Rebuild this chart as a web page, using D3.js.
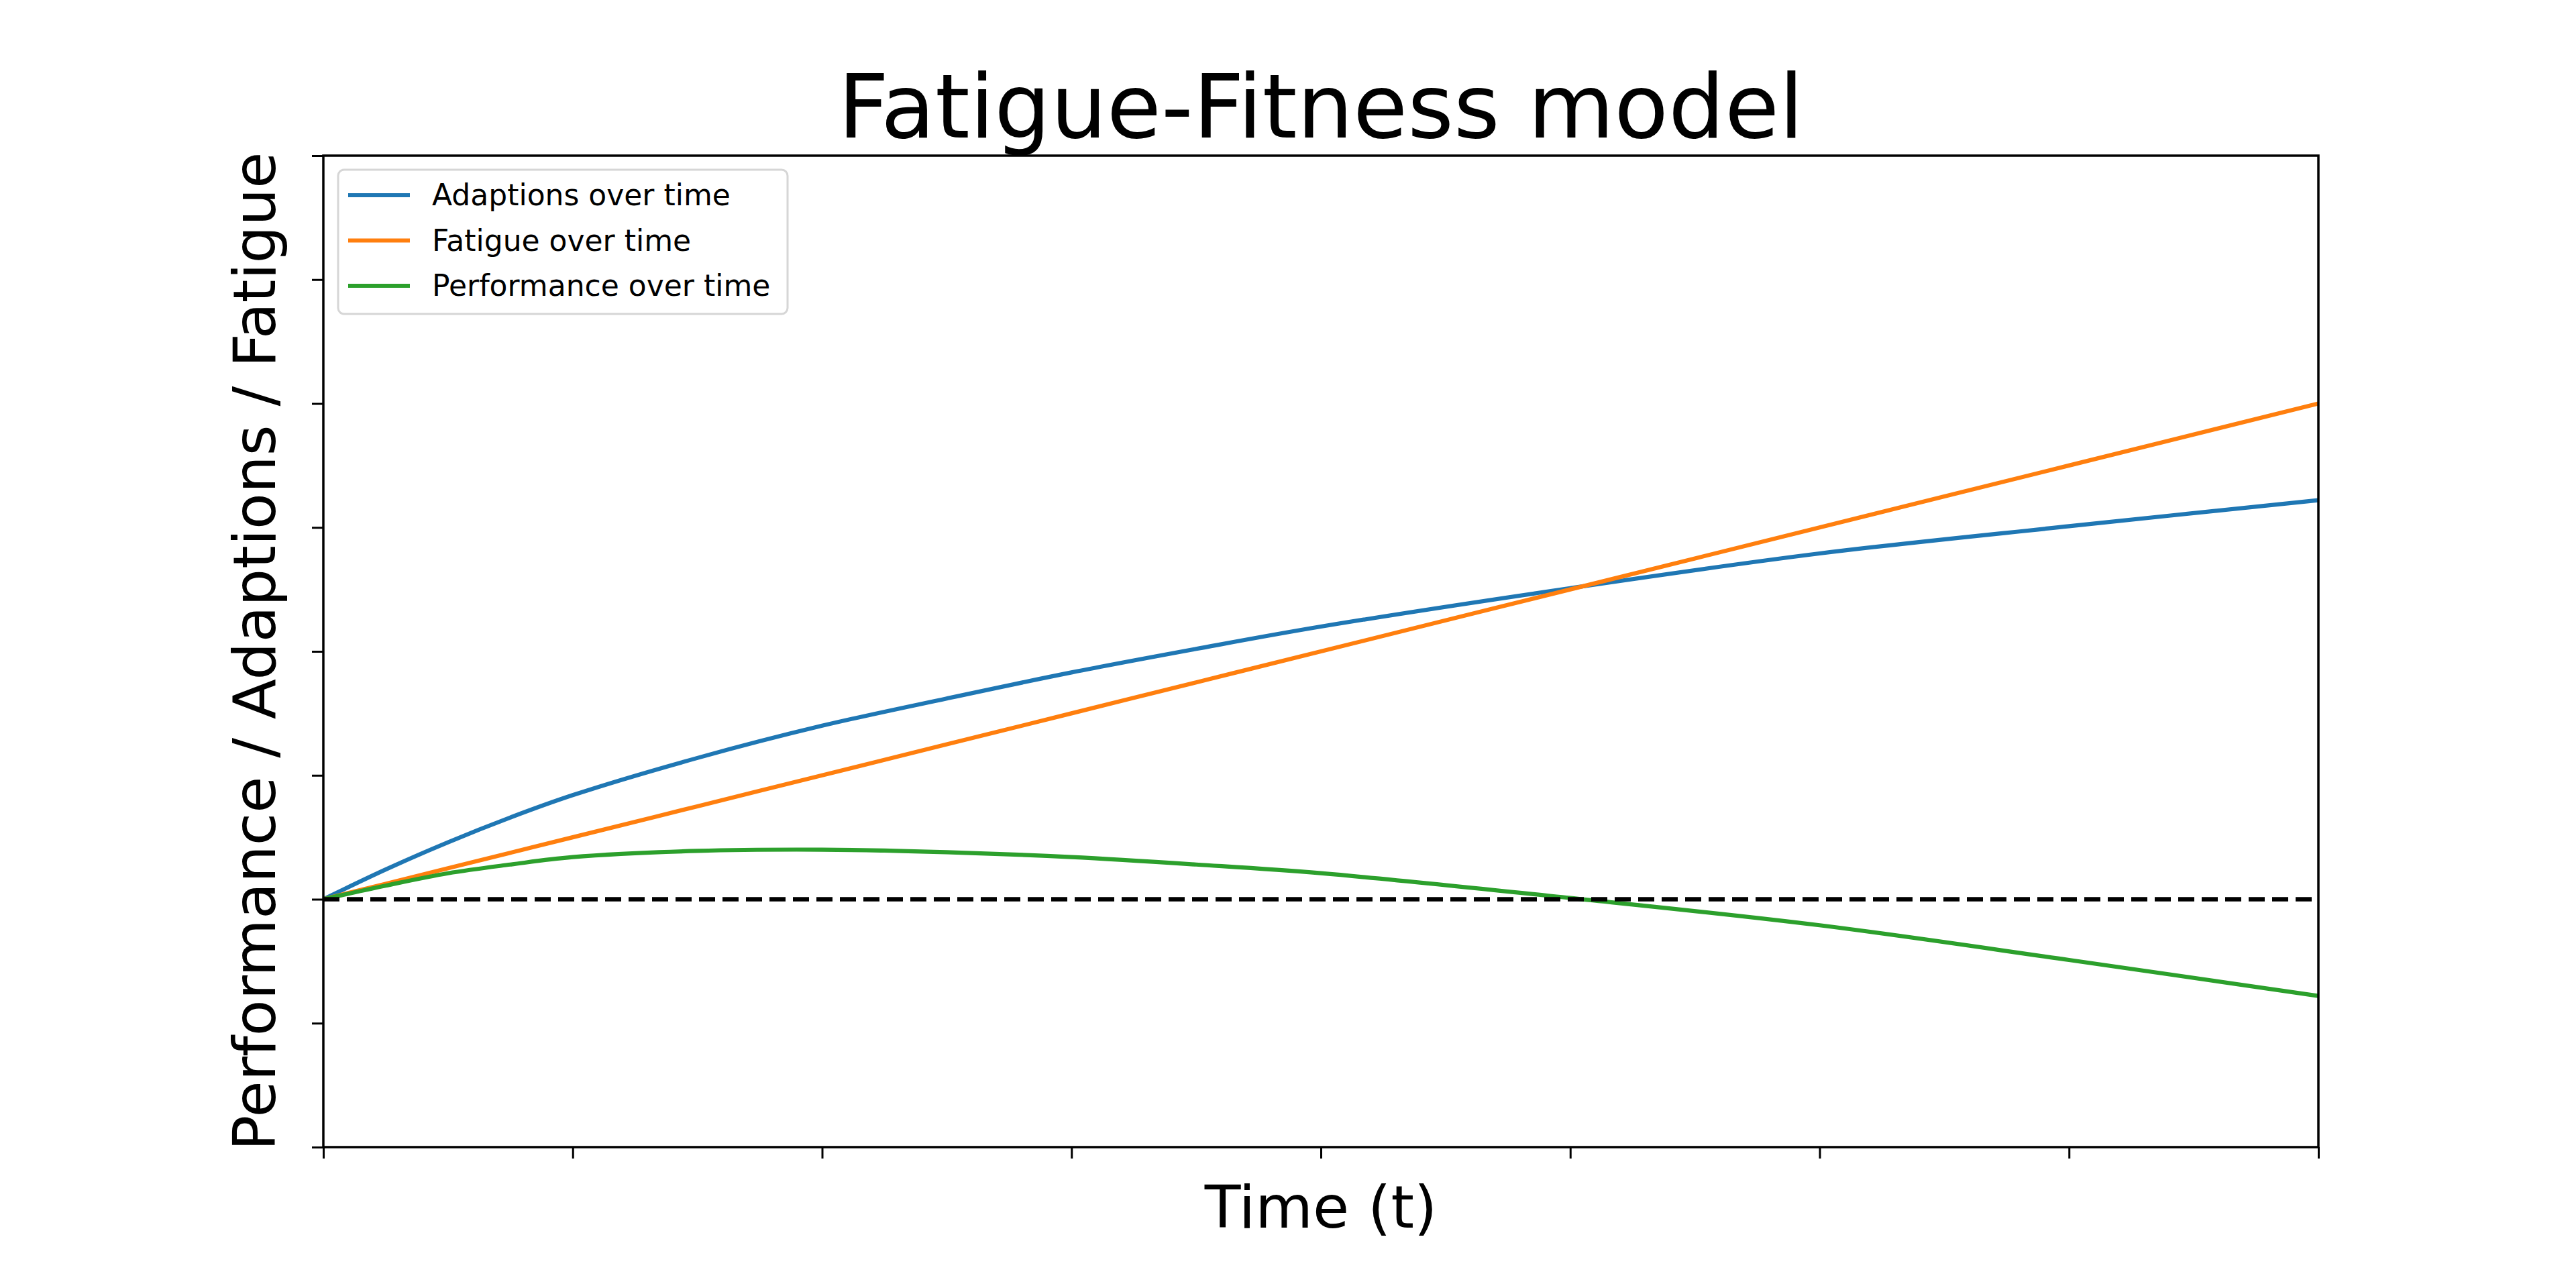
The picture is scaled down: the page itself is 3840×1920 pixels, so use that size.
<!DOCTYPE html>
<html>
<head>
<meta charset="utf-8">
<script src="https://cdn.jsdelivr.net/npm/d3@7"></script>
<style>
  body { margin: 0; background: #fff; }
  svg { display: block; font-family: "DejaVu Sans", sans-serif; }
</style>
</head>
<body>
<svg id="chartSVG" width="3840" height="1920"></svg>
<script>
// values (t in 0..8, y unit = one tick)
var timeValues        = [0, 0.25, 0.5, 0.75, 1, 1.5, 2, 2.5, 3, 3.5, 4, 5, 6, 7, 8];
var adaptionValues    = [0, 0.24, 0.46, 0.66, 0.84, 1.14, 1.40, 1.62, 1.83, 2.02, 2.20, 2.51, 2.79, 3.01, 3.22];
var fatigueValues     = [0, 0.125, 0.25, 0.375, 0.5, 0.75, 1.0, 1.25, 1.5, 1.75, 2.0, 2.5, 3.0, 3.5, 4.0];
var performanceValues = [0, 0.11, 0.21, 0.28, 0.34, 0.39, 0.40, 0.38, 0.34, 0.28, 0.21, 0.01, -0.21, -0.49, -0.78];

var seriesNames  = ["Adaptions over time", "Fatigue over time", "Performance over time"];
var seriesColors = ["#1f77b4", "#ff7f0e", "#2ca02c"];

var xTicks = [0, 1, 2, 3, 4, 5, 6, 7, 8];
var yTicks = [-2, -1, 0, 1, 2, 3, 4, 5, 6];

var chart = (function(){
    var _left = 482, _right = 3456, _top = 232, _bottom = 1710;
    var _lw = 6.2;

    var svg = d3.select("#chartSVG");

    var x = d3.scaleLinear().domain([0, 8]).range([_left, _right]);
    var y = d3.scaleLinear().domain([-2, 6]).range([_bottom, _top]);

    function _drawAxes(){
        var gx = svg.append("g")
            .attr("transform", "translate(0," + _bottom + ")")
            .call(d3.axisBottom(x).tickValues(xTicks).tickFormat("").tickSize(17).tickSizeOuter(0));
        var gy = svg.append("g")
            .attr("transform", "translate(" + _left + ",0)")
            .call(d3.axisLeft(y).tickValues(yTicks).tickFormat("").tickSize(17).tickSizeOuter(0));
        [gx, gy].forEach(function(g){
            g.select(".domain").remove();
            g.selectAll(".tick line").attr("stroke", "#000").attr("stroke-width", 3);
        });
    }

    function _drawLines(){
        var series = [adaptionValues, fatigueValues, performanceValues];
        var line = d3.line()
            .x(function(d, i){ return x(timeValues[i]); })
            .y(function(d){ return y(d); })
            .curve(d3.curveCatmullRom.alpha(0.5));

        svg.selectAll(".series")
            .data(series)
            .enter()
            .append("path")
            .attr("class", "series")
            .attr("d", line)
            .attr("fill", "none")
            .attr("stroke", function(d, i){ return seriesColors[i]; })
            .attr("stroke-width", _lw)
            .attr("stroke-linejoin", "round");

        // zero line
        svg.append("line")
            .attr("x1", x(0)).attr("x2", x(8))
            .attr("y1", y(0)).attr("y2", y(0))
            .attr("stroke", "#000")
            .attr("stroke-width", 6.4)
            .attr("stroke-dasharray", "24,11");
    }

    function _drawFrame(){
        svg.append("rect")
            .attr("x", _left).attr("y", _top)
            .attr("width", _right - _left).attr("height", _bottom - _top)
            .attr("fill", "none")
            .attr("stroke", "#000")
            .attr("stroke-width", 3.5);
    }

    function _drawLegend(){
        var lx = 504, ly = 253, rowH = 67.5;
        var g = svg.append("g").attr("transform", "translate(" + lx + "," + ly + ")");
        g.append("rect")
            .attr("x", 0).attr("y", 0)
            .attr("width", 670).attr("height", 215)
            .attr("rx", 9)
            .attr("fill", "#fff").attr("fill-opacity", 0.8)
            .attr("stroke", "#d6d6d6").attr("stroke-width", 3);

        var rows = g.selectAll(".legendRow")
            .data(seriesNames)
            .enter()
            .append("g")
            .attr("class", "legendRow")
            .attr("transform", function(d, i){ return "translate(0," + (38 + rowH * i) + ")"; });
        rows.append("line")
            .attr("x1", 15).attr("x2", 107)
            .attr("y1", 0).attr("y2", 0)
            .attr("stroke", function(d, i){ return seriesColors[i]; })
            .attr("stroke-width", _lw);
        rows.append("text")
            .attr("x", 140).attr("y", 15)
            .attr("font-size", 44)
            .attr("fill", "#000")
            .text(function(d){ return d; });
    }

    function _drawLabels(){
        svg.append("text")
            .attr("x", (_left + _right) / 2).attr("y", 205)
            .attr("text-anchor", "middle")
            .attr("font-size", 132)
            .text("Fatigue-Fitness model");
        svg.append("text")
            .attr("x", (_left + _right) / 2).attr("y", 1830)
            .attr("text-anchor", "middle")
            .attr("font-size", 88)
            .text("Time (t)");
        svg.append("text")
            .attr("transform", "translate(410," + ((_top + _bottom) / 2) + ") rotate(-90)")
            .attr("text-anchor", "middle")
            .attr("font-size", 88)
            .text("Performance / Adaptions / Fatigue");
    }

    return {
        draw: function(){
            _drawAxes();
            _drawLines();
            _drawFrame();
            _drawLegend();
            _drawLabels();
        }
    };
})();

chart.draw();
</script>
</body>
</html>
